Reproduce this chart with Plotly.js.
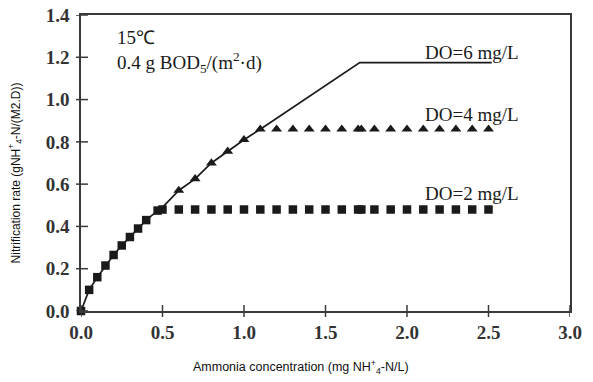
<!DOCTYPE html>
<html>
<head>
<meta charset="utf-8">
<script src="https://cdn.plot.ly/plotly-3.0.1.min.js"></script>
<style>html,body{margin:0;padding:0;background:#fff;}#chart{width:593px;height:382px;}</style>
</head>
<body>
<div id="chart"></div>
<script>
// DO = 2 mg/L (squares)
var do2X = [0, 0.05, 0.1, 0.15, 0.2, 0.25, 0.3, 0.35, 0.4, 0.47, 0.5, 0.6, 0.7, 0.8, 0.9, 1.0, 1.1, 1.2, 1.3, 1.4, 1.5, 1.6, 1.7, 1.72, 1.8, 1.9, 2.0, 2.1, 2.2, 2.3, 2.4, 2.5];
var do2Y = [0, 0.10, 0.16, 0.215, 0.265, 0.31, 0.35, 0.39, 0.43, 0.475, 0.48, 0.48, 0.48, 0.48, 0.48, 0.48, 0.48, 0.48, 0.48, 0.48, 0.48, 0.48, 0.48, 0.48, 0.48, 0.48, 0.48, 0.48, 0.48, 0.48, 0.48, 0.48];
// DO = 4 mg/L (triangles)
var do4X = [0.6, 0.7, 0.8, 0.9, 1.0, 1.1, 1.2, 1.3, 1.4, 1.5, 1.6, 1.7, 1.72, 1.8, 1.9, 2.0, 2.1, 2.2, 2.3, 2.4, 2.5];
var do4Y = [0.57, 0.625, 0.70, 0.755, 0.81, 0.86, 0.86, 0.86, 0.86, 0.86, 0.86, 0.86, 0.86, 0.86, 0.86, 0.86, 0.86, 0.86, 0.86, 0.86, 0.86];
// DO = 6 mg/L (solid line)
var do6X = [0, 0.05, 0.1, 0.15, 0.2, 0.25, 0.3, 0.35, 0.4, 0.47, 0.5, 0.6, 0.7, 0.8, 0.9, 1.0, 1.1, 1.71, 2.52];
var do6Y = [0, 0.10, 0.16, 0.215, 0.265, 0.31, 0.35, 0.39, 0.43, 0.475, 0.49, 0.57, 0.625, 0.70, 0.755, 0.81, 0.86, 1.175, 1.175];

var xTicks = [0, 0.5, 1.0, 1.5, 2.0, 2.5, 3.0];
var xTickText = ['0.0', '0.5', '1.0', '1.5', '2.0', '2.5', '3.0'];
var yTicks = [0, 0.2, 0.4, 0.6, 0.8, 1.0, 1.2, 1.4];
var yTickText = ['0.0', '0.2', '0.4', '0.6', '0.8', '1.0', '1.2', '1.4'];

var seriesLabels = ['DO=6 mg/L', 'DO=4 mg/L', 'DO=2 mg/L'];
var labelY = [1.225, 0.93, 0.555];
var labelX = 2.4;

var ink = '#1a1a1a';
var axisInk = '#3a3a3a';
var serif = 'Liberation Serif, Times New Roman, serif';
var sans = 'Liberation Sans, Arial, sans-serif';

var W = 593, H = 382, M = {l: 81, r: 23, t: 15, b: 71};
var plotW = W - M.l - M.r, plotH = H - M.t - M.b;

var traces = [
  {x: do6X, y: do6Y, type: 'scatter', mode: 'lines', line: {color: ink, width: 1.7}, hoverinfo: 'none', cliponaxis: false},
  {x: do4X, y: do4Y, type: 'scatter', mode: 'markers', marker: {symbol: 'triangle-up', size: 9.5, color: ink}, hoverinfo: 'none', cliponaxis: false},
  {x: do2X, y: do2Y, type: 'scatter', mode: 'markers', marker: {symbol: 'square', size: 8.5, color: ink}, hoverinfo: 'none', cliponaxis: false}
];

// crossing tick marks (both sides of each axis), placed through the axis scales
var shapes = [];
xTicks.forEach(function (v) {
  shapes.push({type: 'line', xref: 'x', yref: 'paper', x0: v, x1: v, y0: -6 / plotH, y1: 6 / plotH,
    line: {color: axisInk, width: 1.5}});
});
yTicks.forEach(function (v) {
  shapes.push({type: 'line', xref: 'paper', yref: 'y', x0: -5 / plotW, x1: 7 / plotW, y0: v, y1: v,
    line: {color: axisInk, width: 1.5}});
});

var tickFont = {family: serif, size: 19, color: '#333', weight: 'bold'};
var annotations = [
  {xref: 'paper', yref: 'paper', x: 0.45, y: -0.19, xanchor: 'center', yanchor: 'middle', showarrow: false,
   text: 'Ammonia concentration (mg NH<sup>+</sup><sub>4</sub>-N/L)', font: {family: sans, size: 12.5, color: '#111'}},
  {xref: 'paper', yref: 'paper', x: -0.133, y: 0.468, xanchor: 'center', yanchor: 'middle', showarrow: false, textangle: -90,
   text: 'Nitrification rate (gNH<sup>+</sup><sub>4</sub>-N/(M2.D))', font: {family: sans, size: 12, color: '#111'}},
  {xref: 'paper', yref: 'paper', x: 0.069, y: 0.925, xanchor: 'left', yanchor: 'middle', showarrow: false,
   text: '15℃', font: {family: serif, size: 19, color: ink}},
  {xref: 'paper', yref: 'paper', x: 0.069, y: 0.838, xanchor: 'left', yanchor: 'middle', showarrow: false,
   text: '0.4 g BOD<sub>5</sub>/(m<sup>2</sup>·d)', font: {family: serif, size: 19, color: ink}}
];
for (var i = 0; i < seriesLabels.length; i++) {
  annotations.push({x: labelX, y: labelY[i], xref: 'x', yref: 'y', xanchor: 'center', yanchor: 'middle', showarrow: false,
    text: seriesLabels[i], font: {family: serif, size: 19, color: ink}});
}

var layout = {
  width: W, height: H,
  margin: M,
  paper_bgcolor: '#fff', plot_bgcolor: '#fff',
  showlegend: false,
  xaxis: {range: [0, 3.0], tickvals: xTicks, ticktext: xTickText, ticks: '', ticklabelstandoff: 3,
    showline: true, linecolor: axisInk, linewidth: 1.8, mirror: true, showgrid: false, zeroline: false, tickfont: tickFont, fixedrange: true},
  yaxis: {range: [0, 1.4], tickvals: yTicks, ticktext: yTickText, ticks: '', ticklabelstandoff: 6,
    showline: true, linecolor: axisInk, linewidth: 1.8, mirror: true, showgrid: false, zeroline: false, tickfont: tickFont, fixedrange: true},
  shapes: shapes,
  annotations: annotations
};

Plotly.newPlot('chart', traces, layout, {displayModeBar: false, staticPlot: true});
</script>
</body>
</html>
